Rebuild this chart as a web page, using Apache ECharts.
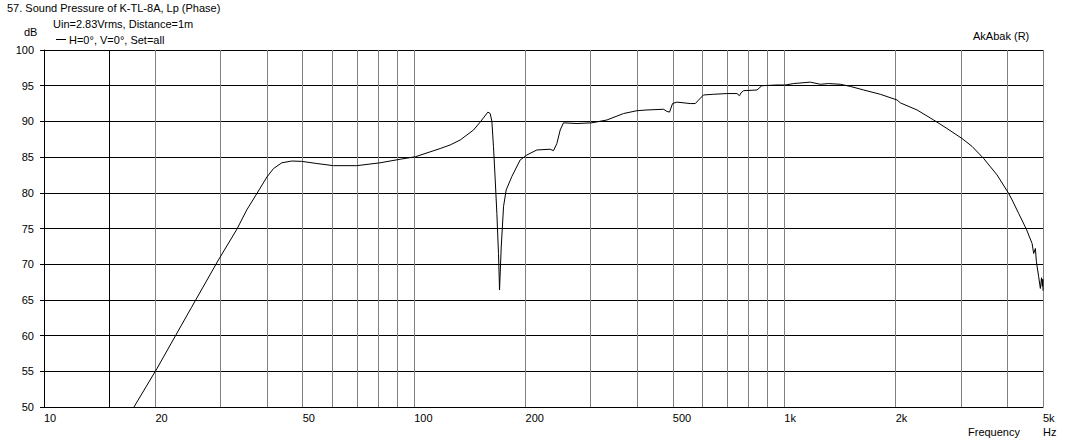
<!DOCTYPE html>
<html><head><meta charset="utf-8">
<script src="https://cdn.jsdelivr.net/npm/echarts@6/dist/echarts.min.js"></script>
<style>html,body{margin:0;padding:0;background:#fff}#c{width:1070px;height:444px}</style>
</head><body><div id="c"></div>
<script>
// Frequency (Hz) and SPL (dB)
const freqs = [17.5,20.2,25.0,29.6,33.2,35.3,37.6,40.0,41.7,43.9,46.7,49.7,54.6,60.5,70.0,80.9,91.7,100.8,
  117.6,125.1,133.2,144.7,150.8,158.2,160.5,162.2,163.8,165.6,167.3,169.0,170.1,171.9,174.4,177.3,183.7,193.4,201.7,
  214.6,233.1,237.9,243.0,248.1,253.2,275.3,302.2,331.8,367.9,399.9,425.6,471.9,481.9,489.8,499,512.8,557,575,587,
  605,644,700,745,757,764,776,844,870,956,1006,1060,1176,1251,1318,1417,1508,1638,1817,2017,2058,2284,2532,2753,
  3022,3216,3457,3757,4040,4126,4298,4509,4672,4718,4768,4799,4867,4919,4955,4980,4995,5000];
const spl = [50.0,55.4,63.9,70.6,74.9,77.6,79.9,82.2,83.4,84.2,84.45,84.4,84.1,83.8,83.8,84.2,84.7,85.05,
  86.2,86.7,87.4,88.8,89.9,91.3,91.1,90.0,86.5,81.8,77.1,71.5,66.4,72.4,78.1,80.4,82.3,84.6,85.3,
  86.0,86.1,85.9,86.9,88.8,89.8,89.7,89.8,90.2,91.1,91.5,91.6,91.7,91.4,91.3,92.5,92.7,92.5,92.5,93.0,
  93.7,93.8,93.9,93.9,93.6,94.0,94.3,94.4,95.0,95.1,95.1,95.3,95.5,95.2,95.3,95.2,94.9,94.4,93.8,93.0,92.6,91.6,90.2,89.0,
  87.6,86.5,84.8,82.5,79.9,79.0,77.1,74.9,72.9,71.5,72.2,70.35,68.25,66.6,68.1,66.9,67.9,66.3];
const xGridValues = [20,30,40,50,60,70,80,90,100,200,300,400,500,600,700,800,900,1000,2000,3000,4000,5000];
const xLabelValues = [10,20,50,100,200,500,1000,2000,5000];
const markerFreqs = [15];
const seriesName = 'H=0°, V=0°, Set=all';

const FONT = 'Liberation Sans, Arial, sans-serif';
const txt = (x, y, s) => ({type:'text', left:x, top:y, style:{text:s, font:'11px ' + FONT, fill:'#000'}});

const chart = echarts.init(document.getElementById('c'), null, {renderer:'svg'});
chart.setOption({
  animation:false,
  backgroundColor:'#fff',
  textStyle:{fontFamily:FONT},
  grid:{left:44, right:27, top:50, bottom:37},
  legend:{
    data:[{name:seriesName, icon:'rect'}], left:56, top:34, itemWidth:10, itemHeight:1, itemGap:4, padding:0,
    textStyle:{fontSize:11, color:'#000', fontFamily:FONT, padding:[0,0,0,-2]}
  },
  graphic:[
    txt(7, 2, '57. Sound Pressure of K-TL-8A, Lp (Phase)'),
    txt(53, 18, 'Uin=2.83Vrms, Distance=1m'),
    txt(24, 26, 'dB'),
    txt(973, 30, 'AkAbak (R)'),
    txt(968, 426, 'Frequency'),
    txt(1043, 426, 'Hz')
  ],
  xAxis:{
    type:'log', logBase:10, min:10, max:5000,
    axisLine:{show:true, onZero:false, lineStyle:{color:'#000', width:1}},
    axisTick:{show:true, length:0, customValues:xGridValues},
    axisLabel:{customValues:xLabelValues, align:'left', margin:5, fontSize:11, color:'#000', fontFamily:FONT,
      formatter:v => v >= 1000 ? (v/1000) + 'k' : String(v)},
    splitLine:{show:true, lineStyle:{color:'#808080', width:1}},
    minorTick:{show:false}, minorSplitLine:{show:false}
  },
  yAxis:{
    type:'value', min:50, max:100, interval:5,
    axisLine:{show:true, lineStyle:{color:'#000', width:1}},
    axisTick:{show:true, length:4, lineStyle:{color:'#000'}},
    axisLabel:{margin:10, fontSize:11, color:'#000', fontFamily:FONT, padding:[0,0,7,0]},
    splitLine:{show:true, lineStyle:{color:'#000', width:1}}
  },
  series:[{
    name:seriesName, type:'line', symbol:'none', smooth:false,
    lineStyle:{color:'#000', width:1}, itemStyle:{color:'#000'},
    data:freqs.map((f,i) => [f, spl[i]]),
    markLine:{
      silent:true, symbol:'none', label:{show:false},
      lineStyle:{color:'#000', width:1, type:'solid'},
      data:markerFreqs.map(f => ({xAxis:f}))
    }
  }]
});
</script></body></html>
